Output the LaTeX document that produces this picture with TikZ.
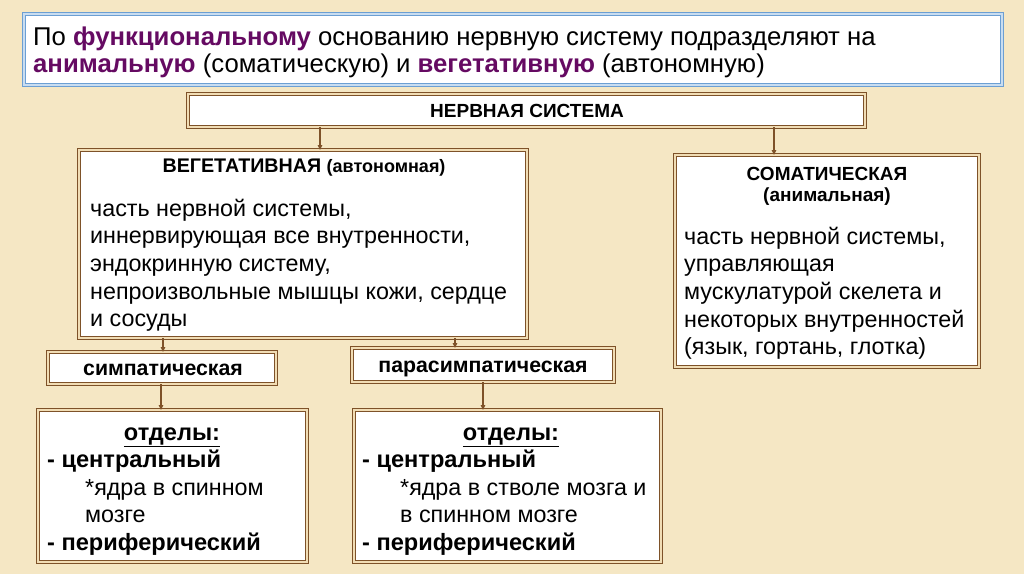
\documentclass[tikz,border=0pt]{standalone}
\usepackage{fontspec}
\setmainfont{Liberation Sans}
\usetikzlibrary{arrows.meta}
\definecolor{bg}{HTML}{F5E7C4}
\definecolor{brn}{HTML}{7E5229}
\definecolor{gapc}{HTML}{F1DDB5}
\definecolor{blu}{HTML}{6C9FD3}
\definecolor{blul}{HTML}{C9DDF0}
\definecolor{purp}{HTML}{650A62}
\tikzset{
  box/.style={draw=brn, double=gapc, double distance=1.4pt, line width=0.9pt, fill=white},
  conn/.style={draw=brn, line width=1.1pt, -{Triangle[length=5pt,width=4.5pt]}},
  bodytxt/.style={anchor=base west, inner sep=0, font=\fontsize{23.3}{27}\selectfont},
  boldbody/.style={anchor=base west, inner sep=0, font=\fontsize{23.6}{27}\selectfont\bfseries},
  boldtxt/.style={anchor=base, inner sep=0, font=\fontsize{19}{22}\selectfont\bfseries},
}
\begin{document}
\begin{tikzpicture}[x=1pt,y=-1pt]
\useasboundingbox (0,0) rectangle (1024,574);
\fill[bg] (0,0) rectangle (1024,574);
% top blue box
\draw[draw=blu, double=blul, double distance=1.5pt, line width=1.3pt, fill=white] (24,14) rectangle (1002,85);
\node[anchor=base west, font=\fontsize{25.7}{29}\selectfont, inner sep=0] (intro) at (33,45)
  {По \textcolor{purp}{\bfseries функциональному} основанию нервную систему подразделяют на};
\node[anchor=base west, font=\fontsize{25.7}{29}\selectfont, inner sep=0] (intro2) at (33,72)
  {\textcolor{purp}{\bfseries анимальную} (соматическую) и \textcolor{purp}{\bfseries вегетативную} (автономную)};
% boxes
\draw[box] (188,94) rectangle (865,127);
\node[boldtxt] (ns) at (527,117) {НЕРВНАЯ СИСТЕМА};
\coordinate (nsL) at (320,127);
\coordinate (nsR) at (774,127);

\draw[box] (79,150) rectangle (527,338);
\coordinate (vegT) at (320,150);
\coordinate (vegB1) at (163,338);
\coordinate (vegB2) at (455,338);
\node[boldtxt, font=\fontsize{19.7}{23}\selectfont\bfseries] (veg) at (304,172) {ВЕГЕТАТИВНАЯ \fontsize{18}{21}\selectfont(автономная)};
\node[bodytxt] (v1) at (90,216) {часть нервной системы,};
\node[bodytxt] (v2) at (90,243) {иннервирующая все внутренности,};
\node[bodytxt] (v3) at (90,271) {эндокринную систему,};
\node[bodytxt] (v4) at (90,299) {непроизвольные мышцы кожи, сердце};
\node[bodytxt] (v5) at (90,326) {и сосуды};

\draw[box] (675,155) rectangle (979,367);
\coordinate (somT) at (774,155);
\node[boldtxt] (som) at (827,180) {СОМАТИЧЕСКАЯ};
\node[boldtxt] (som2) at (827,201) {(анимальная)};
\node[bodytxt] (s1) at (684,244) {часть нервной системы,};
\node[bodytxt] (s2) at (684,271) {управляющая};
\node[bodytxt] (s3) at (684,299) {мускулатурой скелета и};
\node[bodytxt] (s4) at (684,327) {некоторых внутренностей};
\node[bodytxt] (s5) at (684,354) {(язык, гортань, глотка)};

\draw[box] (48,352) rectangle (276,384);
\node[boldtxt, font=\fontsize{21.3}{25}\selectfont\bfseries] (sym) at (163,375) {симпатическая};
\coordinate (symT) at (163,352);
\coordinate (symB) at (161,384);

\draw[box] (352,348) rectangle (614,382);
\node[boldtxt, font=\fontsize{21.3}{25}\selectfont\bfseries] (par) at (483,372) {парасимпатическая};
\coordinate (parT) at (455,348);
\coordinate (parB) at (483,382);

\draw[box] (38,410) rectangle (307,562);
\coordinate (d1T) at (161,410);
\node[anchor=base, inner sep=0, font=\fontsize{23.6}{27}\selectfont\bfseries] (d1h) at (172,440) {\underline{отделы:}};
\node[boldbody] (d1a) at (47,467) {- центральный};
\node[bodytxt] (d1b) at (85,495) {*ядра в спинном};
\node[bodytxt] (d1c) at (85,522) {мозге};
\node[boldbody] (d1d) at (47,550) {- периферический};

\draw[box] (354,410) rectangle (661,562);
\coordinate (d2T) at (483,410);
\node[anchor=base, inner sep=0, font=\fontsize{23.6}{27}\selectfont\bfseries] (d2h) at (511,440) {\underline{отделы:}};
\node[boldbody] (d2a) at (362,467) {- центральный};
\node[bodytxt] (d2b) at (400,495) {*ядра в стволе мозга и};
\node[bodytxt] (d2c) at (400,522) {в спинном мозге};
\node[boldbody] (d2d) at (362,550) {- периферический};

% connectors
\draw[conn] (nsL) -- (vegT);
\draw[conn] (nsR) -- (somT);
\draw[conn] (vegB1) -- (symT);
\draw[conn] (vegB2) -- (parT);
\draw[conn] (symB) -- (d1T);
\draw[conn] (parB) -- (d2T);
\end{tikzpicture}
\end{document}
